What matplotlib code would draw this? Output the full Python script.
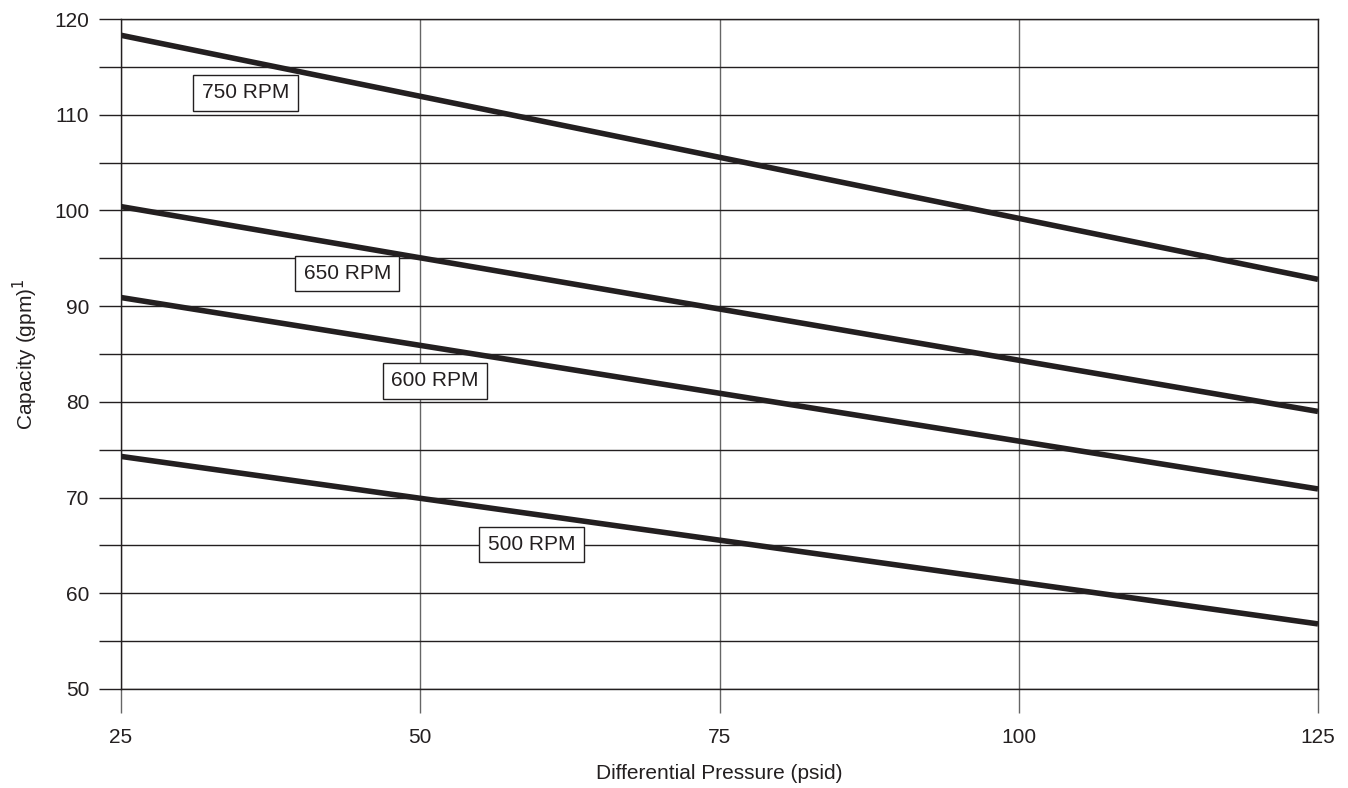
import matplotlib
matplotlib.use("Agg")
import matplotlib.pyplot as plt
import numpy as np

plt.rcParams['font.family'] = ['Liberation Sans', 'DejaVu Sans']

# Donnees
pressure = [25, 125]
cap_750 = [118.3, 92.8]
cap_650 = [100.4, 79.0]
cap_600 = [90.9, 70.9]
cap_500 = [74.3, 56.8]

labels = ['750 RPM', '650 RPM', '600 RPM', '500 RPM']
label_x = [35.4, 43.9, 51.2, 59.3]
label_y = [112.3, 93.4, 82.2, 65.1]

x_ticks = [25, 50, 75, 100, 125]
y_ticks = [50, 60, 70, 80, 90, 100, 110, 120]

ink = '#231f20'

fig = plt.figure(figsize=(13.48, 7.88), dpi=100)
ax = fig.add_axes([121/1348, 1 - 689/788, (1318-121)/1348, (689-19)/788])

ax.set_xlim(25, 125)
ax.set_ylim(50, 120)
ax.set_xticks(x_ticks)
ax.set_yticks(y_ticks)
ax.set_yticks(np.arange(55, 120, 10), minor=True)

ax.grid(True, which='both', axis='y', color=ink, lw=1.0)
ax.grid(True, which='major', axis='x', color='#666666', lw=1.0)
ax.tick_params(axis='y', which='both', length=16, width=1.0, color=ink,
               labelsize=15, labelcolor=ink, pad=7)
ax.tick_params(axis='x', length=17, width=1.0, color='#666666',
               labelsize=15, labelcolor=ink, pad=11)
for s in ax.spines.values():
    s.set_color(ink)
    s.set_linewidth(1.0)

for ys in [cap_750, cap_650, cap_600, cap_500]:
    ax.plot(pressure, ys, color=ink, lw=4.0, solid_capstyle='butt', zorder=3)

for t, xx, yy in zip(labels, label_x, label_y):
    ax.text(xx, yy, t, ha='center', va='center', fontsize=15, color=ink, zorder=4,
            bbox=dict(boxstyle='square,pad=0.4', fc='white', ec=ink, lw=1.0))

ax.set_xlabel('Differential Pressure (psid)', fontsize=15, color=ink, labelpad=12)
ax.set_ylabel('Capacity (gpm)$^1$', fontsize=15, color=ink, labelpad=10)

fig.savefig('out.png', dpi=100)
